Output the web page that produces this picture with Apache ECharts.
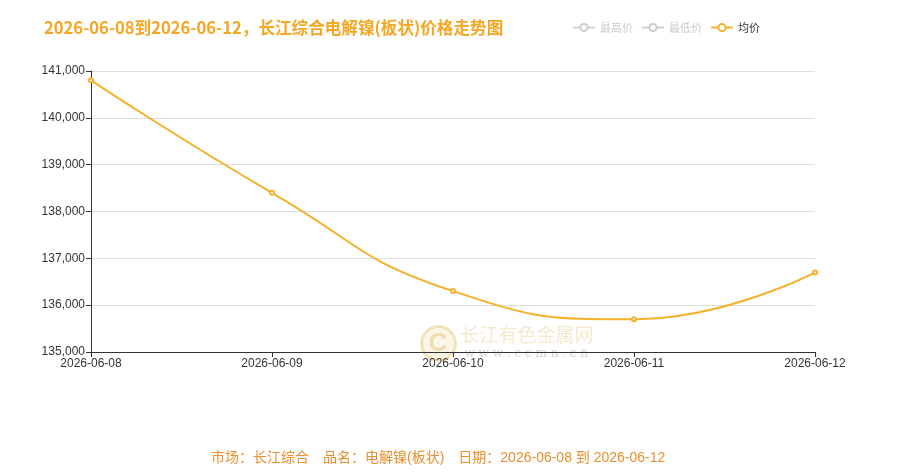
<!DOCTYPE html>
<html>
<head>
<meta charset="utf-8">
<script src="https://cdn.jsdelivr.net/npm/echarts@6/dist/echarts.min.js"></script>
<style>
  html, body { margin: 0; padding: 0; background: #fff; }
  #chart { width: 913px; height: 475px; }
</style>
</head>
<body>
<div id="chart"></div>
<script>
// 数据
const dates = ['2026-06-08', '2026-06-09', '2026-06-10', '2026-06-11', '2026-06-12'];
const avgPrice = [140800, 138400, 136300, 135700, 136700];
const highPrice = [];
const lowPrice = [];
const legendNames = ['最高价', '最低价', '均价'];
const yTicks = { min: 135000, max: 141000, interval: 1000 };

const chart = echarts.init(document.getElementById('chart'));
const options = {
  title: [
    {
      text: '2026-06-08到2026-06-12，长江综合电解镍(板状)价格走势图',
      left: 39,
      top: 14,
      textStyle: { color: '#f5a623', fontSize: 16.6, fontWeight: 'bold', fontFamily: 'Noto Sans CJK SC' }
    },
    {
      text: '市场：长江综合　品名：电解镍(板状)　日期：2026-06-08 到 2026-06-12',
      left: 206,
      top: 446,
      textStyle: { color: '#e98f2e', fontSize: 14, fontWeight: 'normal', fontFamily: 'Liberation Sans, Noto Sans CJK SC' }
    }
  ],
  legend: {
    data: legendNames,
    right: 148,
    top: 17,
    itemWidth: 22,
    itemHeight: 9,
    itemGap: 8,
    textStyle: { fontSize: 11, color: '#333', fontFamily: 'Noto Sans CJK SC' },
    inactiveColor: '#ccc',
    selected: { '最高价': false, '最低价': false, '均价': true }
  },
  grid: { left: 91, right: 98, top: 71, bottom: 123 },
  xAxis: {
    type: 'category',
    boundaryGap: false,
    data: dates,
    axisLine: { lineStyle: { color: '#333' } },
    axisTick: { alignWithLabel: true },
    axisLabel: { color: '#333', fontSize: 12, margin: 6, interval: 0 }
  },
  yAxis: {
    type: 'value',
    min: yTicks.min,
    max: yTicks.max,
    interval: yTicks.interval,
    axisLine: { show: true, lineStyle: { color: '#333' } },
    axisTick: { show: true },
    axisLabel: { color: '#333', fontSize: 12, margin: 6 },
    splitLine: { lineStyle: { color: '#ddd' } }
  },
  graphic: [
    {
      type: 'group',
      left: 420,
      top: 325,
      silent: true,
      children: [
        { type: 'circle', shape: { cx: 18, cy: 18, r: 17 }, style: { fill: 'rgba(240,215,150,0.25)', stroke: 'rgba(230,200,120,0.45)', lineWidth: 3 } },
        { type: 'text', style: { x: 8, y: 5, text: 'C', fontSize: 26, fontWeight: 'bold', fill: 'rgba(225,190,110,0.45)' } },
        { type: 'text', style: { x: 40, y: 0, text: '长江有色金属网', fontSize: 19, fill: 'rgba(230,200,130,0.4)', fontFamily: 'Noto Sans CJK SC' } },
        { type: 'text', style: { x: 44, y: 22, text: 'w w w . c c m n . c n', fontSize: 12, fill: 'rgba(170,170,170,0.55)', fontFamily: 'DejaVu Serif' } }
      ]
    }
  ],
  series: [
    { name: '最高价', type: 'line', smooth: true, data: highPrice, itemStyle: { color: '#e05c5c' } },
    { name: '最低价', type: 'line', smooth: true, data: lowPrice, itemStyle: { color: '#5b8ff9' } },
    {
      name: '均价',
      type: 'line',
      smooth: true,
      data: avgPrice,
      symbol: 'emptyCircle',
      symbolSize: 4,
      itemStyle: { color: '#f5b12a' },
      lineStyle: { color: '#f5b12a', width: 2 }
    }
  ]
};
chart.setOption(options);
</script>
</body>
</html>
